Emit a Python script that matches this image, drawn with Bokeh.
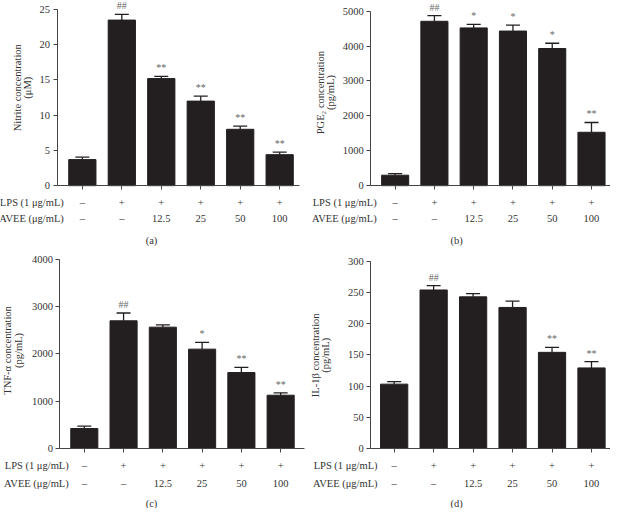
import math
from bokeh.plotting import figure
from bokeh.models import LinearAxis, FixedTicker, Range1d, ColumnDataSource, Whisker, TeeHead
from bokeh.layouts import gridplot
from bokeh.core.properties import value
from bokeh.embed import file_html
from bokeh.resources import INLINE

# ---------------- data ----------------
lps_row = ["–", "+", "+", "+", "+", "+"]
avee_row = ["–", "–", "12.5", "25", "50", "100"]

nitrite_mean = [3.7, 23.5, 15.2, 12.0, 8.0, 4.4]
nitrite_err = [0.35, 0.8, 0.3, 0.7, 0.45, 0.35]
nitrite_sig = ["", "##", "**", "**", "**", "**"]
nitrite_ticks = [0, 5, 10, 15, 20, 25]

pge2_mean = [300, 4710, 4520, 4430, 3930, 1530]
pge2_err = [45, 160, 100, 170, 150, 280]
pge2_sig = ["", "##", "*", "*", "*", "**"]
pge2_ticks = [0, 1000, 2000, 3000, 4000, 5000]

tnf_mean = [420, 2700, 2565, 2100, 1605, 1125]
tnf_err = [50, 165, 50, 145, 110, 50]
tnf_sig = ["", "##", "", "*", "**", "**"]
tnf_ticks = [0, 1000, 2000, 3000, 4000]

il1b_mean = [103, 254, 243, 226, 154, 129]
il1b_err = [4, 7, 5, 10, 8, 10]
il1b_sig = ["", "##", "", "", "**", "**"]
il1b_ticks = [0, 50, 100, 150, 200, 250, 300]

# ---------------- layout ----------------
REF_W, REF_H = 313, 262
W, H = 305, 254
FONT = "Liberation Serif"
TXT = "#333333"
AX = "#444444"
BAR = "#231f20"

LAY_A = dict(c0=84, pitch=40.5, y0=191, ytop=9.3, ax=58, xend=307, hdr=65,
             lx1=17, lx2=28, lcy=90, row1=208, row2=225, cap=248, capx=155)
LAY_B = dict(c0=92, pitch=40.3, y0=191, ytop=11, ax=67, xend=313, hdr=73,
             lx1=15, lx2=26, lcy=95, row1=208, row2=225, cap=248, capx=155)
LAY_C = dict(c0=86, pitch=40.3, y0=200, ytop=5, ax=61, xend=312, hdr=70,
             lx1=7, lx2=18, lcy=99, row1=218, row2=236, cap=257, capx=155)
LAY_D = dict(c0=91, pitch=40.5, y0=200, ytop=7, ax=67, xend=313, hdr=74,
             lx1=10, lx2=21, lcy=104, row1=218, row2=236, cap=257, capx=155)


def style_axis(ax):
    ax.axis_line_color = AX
    ax.axis_line_width = 1
    ax.major_tick_line_color = AX
    ax.major_tick_out = 4
    ax.major_tick_in = 0
    ax.minor_tick_out = 0
    ax.minor_tick_in = 0
    ax.major_label_text_font = FONT
    ax.major_label_text_font_size = "10.5px"
    ax.major_label_text_color = TXT
    ax.major_label_standoff = 3


def panel(means, errs, sigs, ticks, ylabel, caption, L):
    ymax = ticks[-1]
    c0, pitch, y0, ytop = L["c0"], L["pitch"], L["y0"], L["ytop"]
    s = (y0 - ytop) / ymax

    def fx(px):
        return (px - c0) / pitch

    def fy(py):
        return (y0 - py) / s

    p = figure(width=W, height=H,
               x_range=Range1d(fx(0), fx(REF_W)),
               y_range=Range1d(fy(REF_H), fy(0)),
               x_axis_type=None, y_axis_type=None,
               toolbar_location=None, output_backend="svg",
               min_border=0, outline_line_color=None,
               background_fill_color="white", border_fill_color="white")
    p.min_border_left = p.min_border_right = p.min_border_top = p.min_border_bottom = 0

    idx = list(range(len(means)))
    src = ColumnDataSource(dict(
        x=idx, top=means,
        upper=[m + e for m, e in zip(means, errs)],
        sig=sigs, lps=lps_row, avee=avee_row))

    p.vbar(x="x", top="top", bottom=0, width=0.69, source=src,
           fill_color=BAR, line_color=BAR)

    wk = Whisker(source=src, base="x", lower="top", upper="upper",
                 dimension="height", line_color=BAR, line_width=1.3,
                 upper_head=TeeHead(size=14, line_color=BAR, line_width=1.3),
                 lower_head=None)
    p.add_layout(wk)

    p.text(x="x", y="upper", text="sig", source=src,
           text_font=value(FONT), text_font_size="10px", text_align="center",
           text_baseline="bottom", y_offset=-3, text_color="#666666")

    # axes
    yax = LinearAxis(fixed_location=fx(L["ax"]), bounds=(0, ymax),
                     ticker=FixedTicker(ticks=ticks))
    style_axis(yax)
    p.add_layout(yax, "left")

    xax = LinearAxis(fixed_location=0, bounds=(fx(L["ax"]), fx(L["xend"])),
                     ticker=FixedTicker(ticks=idx))
    style_axis(xax)
    xax.major_label_text_font_size = "0px"
    xax.major_label_text_alpha = 0
    p.add_layout(xax, "below")

    common = dict(text_font=value(FONT), text_font_size="10.5px", text_color=TXT,
                  text_baseline="middle")
    # treatment table
    p.text(x="x", y=fy(L["row1"]), text="lps", source=src, text_align="center", **common)
    p.text(x="x", y=fy(L["row2"]), text="avee", source=src, text_align="center", **common)
    p.text(x=[fx(L["hdr"])] * 2, y=[fy(L["row1"]), fy(L["row2"])],
           text=["LPS (1 μg/mL)", "AVEE (μg/mL)"], text_align="right", **common)

    # y label (two lines, rotated)
    p.text(x=[fx(L["lx1"]), fx(L["lx2"])], y=[fy(L["lcy"])] * 2,
           text=ylabel, angle=math.pi / 2, text_align="center", **common)

    # caption
    p.text(x=[fx(L["capx"])], y=[fy(L["cap"])], text=[caption],
           text_align="center", **common)
    return p


pa = panel(nitrite_mean, nitrite_err, nitrite_sig, nitrite_ticks,
           ["Nitrite concentration", "(μM)"], "(a)", LAY_A)
pb = panel(pge2_mean, pge2_err, pge2_sig, pge2_ticks,
           ["PGE₂ concentration", "(pg/mL)"], "(b)", LAY_B)
pc = panel(tnf_mean, tnf_err, tnf_sig, tnf_ticks,
           ["TNF-α concentration", "(pg/mL)"], "(c)", LAY_C)
pd = panel(il1b_mean, il1b_err, il1b_sig, il1b_ticks,
           ["IL-1β concentration", "(pg/mL)"], "(d)", LAY_D)

grid = gridplot([[pa, pb], [pc, pd]], toolbar_location=None)

open("out.html", "w").write(file_html(grid, INLINE))
